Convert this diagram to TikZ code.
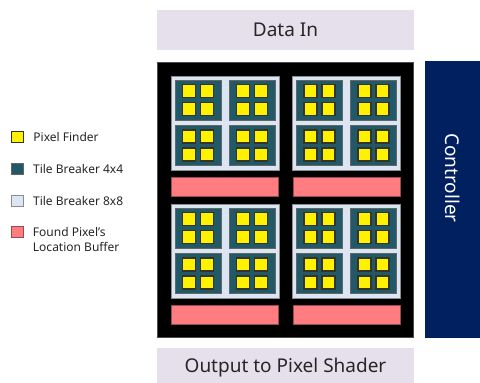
\documentclass[tikz,border=0pt]{standalone}
\usepackage{fontspec}
\setmainfont{Noto Sans}
\usetikzlibrary{positioning}
\definecolor{lavender}{HTML}{E6E0EC}
\definecolor{navy}{HTML}{002060}
\definecolor{teal4}{HTML}{215968}
\definecolor{pale8}{HTML}{DCE6F2}
\definecolor{salmon}{HTML}{FF7C80}
\definecolor{edge}{HTML}{333326}

\begin{document}
\begin{tikzpicture}[x=1pt, y=-1pt,
  band/.style = {rectangle, fill=lavender, minimum width=257pt, minimum height=40pt, inner sep=0pt, font=\fontsize{19}{22}\selectfont, text=black!85},
  pix/.style = {rectangle, draw=edge, line width=1.4pt, fill=yellow, minimum width=13pt, minimum height=13pt, inner sep=0pt},
  tfour/.style = {rectangle, draw=black!60, line width=0.8pt, fill=teal4, minimum width=46pt, minimum height=40pt, inner sep=0pt},
  teight/.style = {rectangle, draw=black!45, line width=0.8pt, fill=pale8, minimum width=108pt, minimum height=94pt, inner sep=0pt},
  buf/.style = {rectangle, draw=red!40!black!70, line width=0.5pt, fill=salmon, minimum width=107pt, minimum height=19pt, inner sep=0pt},
  lbl/.style = {inner sep=0pt, font=\fontsize{12}{15}\selectfont, text=black!85}]
\useasboundingbox (0,0) rectangle (480,383);

\node[band] (datain) at (285.5,30) {Data In};
\node[rectangle, draw=black!70, fill=black, minimum width=256pt, minimum height=275pt, inner sep=0pt] (core) at (285,199.5) {};
\node[rectangle, fill=navy, minimum width=55pt, minimum height=277pt, inner sep=0pt] (ctrl) at (452.5,199.5) {};
\node[rotate=-90, text=white, font=\fontsize{19}{22}\selectfont] (ctrltext) at (452.5,178) {Controller};
\node[band] (output) at (285.5,368) {Output to Pixel Shader};

% 8x8 tiles, their buffers, 4x4 tiles and pixel finders
\foreach \t/\tx/\ty in {a/225/123, b/346.5/123, c/225/251, d/346.5/251} {
  \node[teight] (\t) at (\tx,\ty) {};
  \node[buf] (buf\t) [below=7pt of \t] {};
  \foreach \q/\qx/\qy in {1/-27/-23, 2/27/-23, 3/-27/22.5, 4/27/22.5} {
    \node[tfour] (\t\q) at ([shift={(\qx,\qy)}]\t) {};
    \foreach \p/\px/\py in {1/-9/-9, 2/9/-9, 3/-9/9, 4/9/9}
      \node[pix] (\t\q\p) at ([shift={(\px,\py)}]\t\q) {};
  }
}

% legend
\node[pix, minimum width=12pt, minimum height=11pt] (lpix) at (17.5,137) {};
\node[tfour, minimum width=12pt, minimum height=11pt] (lfour) at (17.5,169) {};
\node[teight, minimum width=12pt, minimum height=11pt] (leight) at (17.5,201) {};
\node[buf, minimum width=12pt, minimum height=11pt] (lbuf) at (17.5,232) {};
\node[lbl] (tpix) [right=9pt of lpix] {Pixel Finder};
\node[lbl] (tfour) [right=9pt of lfour] {Tile Breaker 4x4};
\node[lbl] (teight) [right=9pt of leight] {Tile Breaker 8x8};
\node[lbl, align=left, anchor=north west] (tbuf) at ([xshift=9pt, yshift=-1pt]lbuf.north east) {Found Pixel's\\Location Buffer};
\end{tikzpicture}
\end{document}
